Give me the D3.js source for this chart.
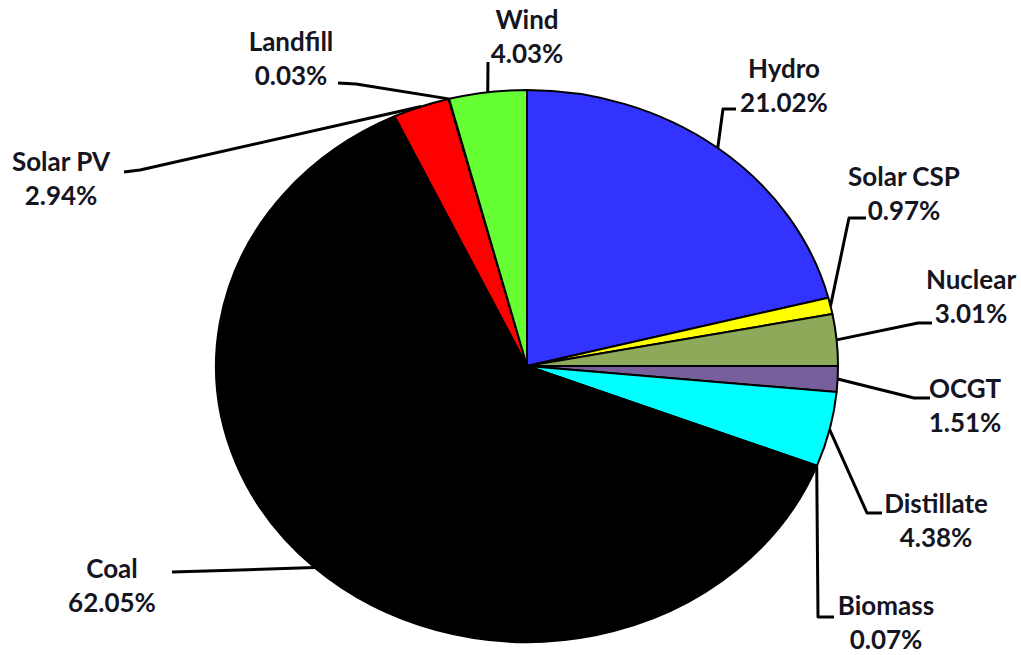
<!DOCTYPE html>
<html>
<head>
<meta charset="utf-8">
<script src="https://cdn.jsdelivr.net/npm/d3@7"></script>
<style>
  body { margin: 0; background: #fff; }
  text { font-family: Lato, "Open Sans", sans-serif; font-weight: bold; fill: #15151f; }
</style>
</head>
<body>
<svg id="chart" width="1021" height="655"></svg>
<script>
// data, clockwise from 12 o'clock
const sources = ["Hydro", "Solar CSP", "Nuclear", "OCGT", "Distillate", "Biomass", "Coal", "Solar PV", "Landfill", "Wind"];
const shares = [21.02, 0.97, 3.01, 1.51, 4.38, 0.07, 62.05, 2.94, 0.03, 4.03];
const colors = ["#3333ff", "#ffff00", "#8fa95a", "#775f9c", "#00ffff", "#c0504d", "#000000", "#ff0000", "#f79646", "#66ff33"];

// label layout: [elbow x, elbow y, end x, end y, text cx, name baseline y]
const labelLayout = {
  "Hydro":      [723, 109, 736, 109, 784, 78],
  "Solar CSP":  [849, 218, 866, 218, 904, 186],
  "Nuclear":    [918, 323, 932, 323, 971, 289],
  "OCGT":       [914, 398, 930, 398, 965, 398],
  "Distillate": [867, 513, 882, 513, 936, 513],
  "Biomass":    [818, 617, 834, 617, 886, 615],
  "Coal":       [240, 570, 172, 572, 112, 578],
  "Solar PV":   [140, 170, 124, 172, 61, 171],
  "Landfill":   [356, 84, 338, 83, 291, 51],
  "Wind":       [488, 62, 488, 62, 527, 29]
};

const cx = 527, cy = 366, rx = 311, ry = 276;
const svg = d3.select("#chart");

const pie = d3.pie().sort(null).value(d => d.v);
const arcs = pie(sources.map((s, i) => ({ name: s, v: shares[i], c: colors[i] })));
const arc = d3.arc().innerRadius(0).outerRadius(ry);

const g = svg.append("g").attr("transform", `translate(${cx},${cy}) scale(${rx / ry},1)`);
g.selectAll("path")
  .data(arcs)
  .join("path")
  .attr("d", arc)
  .attr("fill", d => d.data.c)
  .attr("stroke", "#000")
  .attr("stroke-width", 2)
  .attr("stroke-linejoin", "round")
  .attr("vector-effect", "non-scaling-stroke");

// point on the ellipse at the slice middle
function edgePoint(d) {
  const a = (d.startAngle + d.endAngle) / 2;
  return [cx + rx * Math.sin(a), cy - ry * Math.cos(a)];
}

const line = d3.line();
const labels = svg.append("g");
arcs.forEach(d => {
  const L = labelLayout[d.data.name];
  const p = edgePoint(d);
  labels.append("path")
    .attr("d", line([p, [L[0], L[1]], [L[2], L[3]]]))
    .attr("fill", "none")
    .attr("stroke", "#000")
    .attr("stroke-width", 3)
    .attr("stroke-linejoin", "round");
  const t = labels.append("text")
    .attr("text-anchor", "middle")
    .attr("font-size", 26);
  t.append("tspan").attr("x", L[4]).attr("y", L[5]).text(d.data.name);
  t.append("tspan").attr("x", L[4]).attr("y", L[5] + 34).text(d.data.v.toFixed(2) + "%");
});
</script>
</body>
</html>
